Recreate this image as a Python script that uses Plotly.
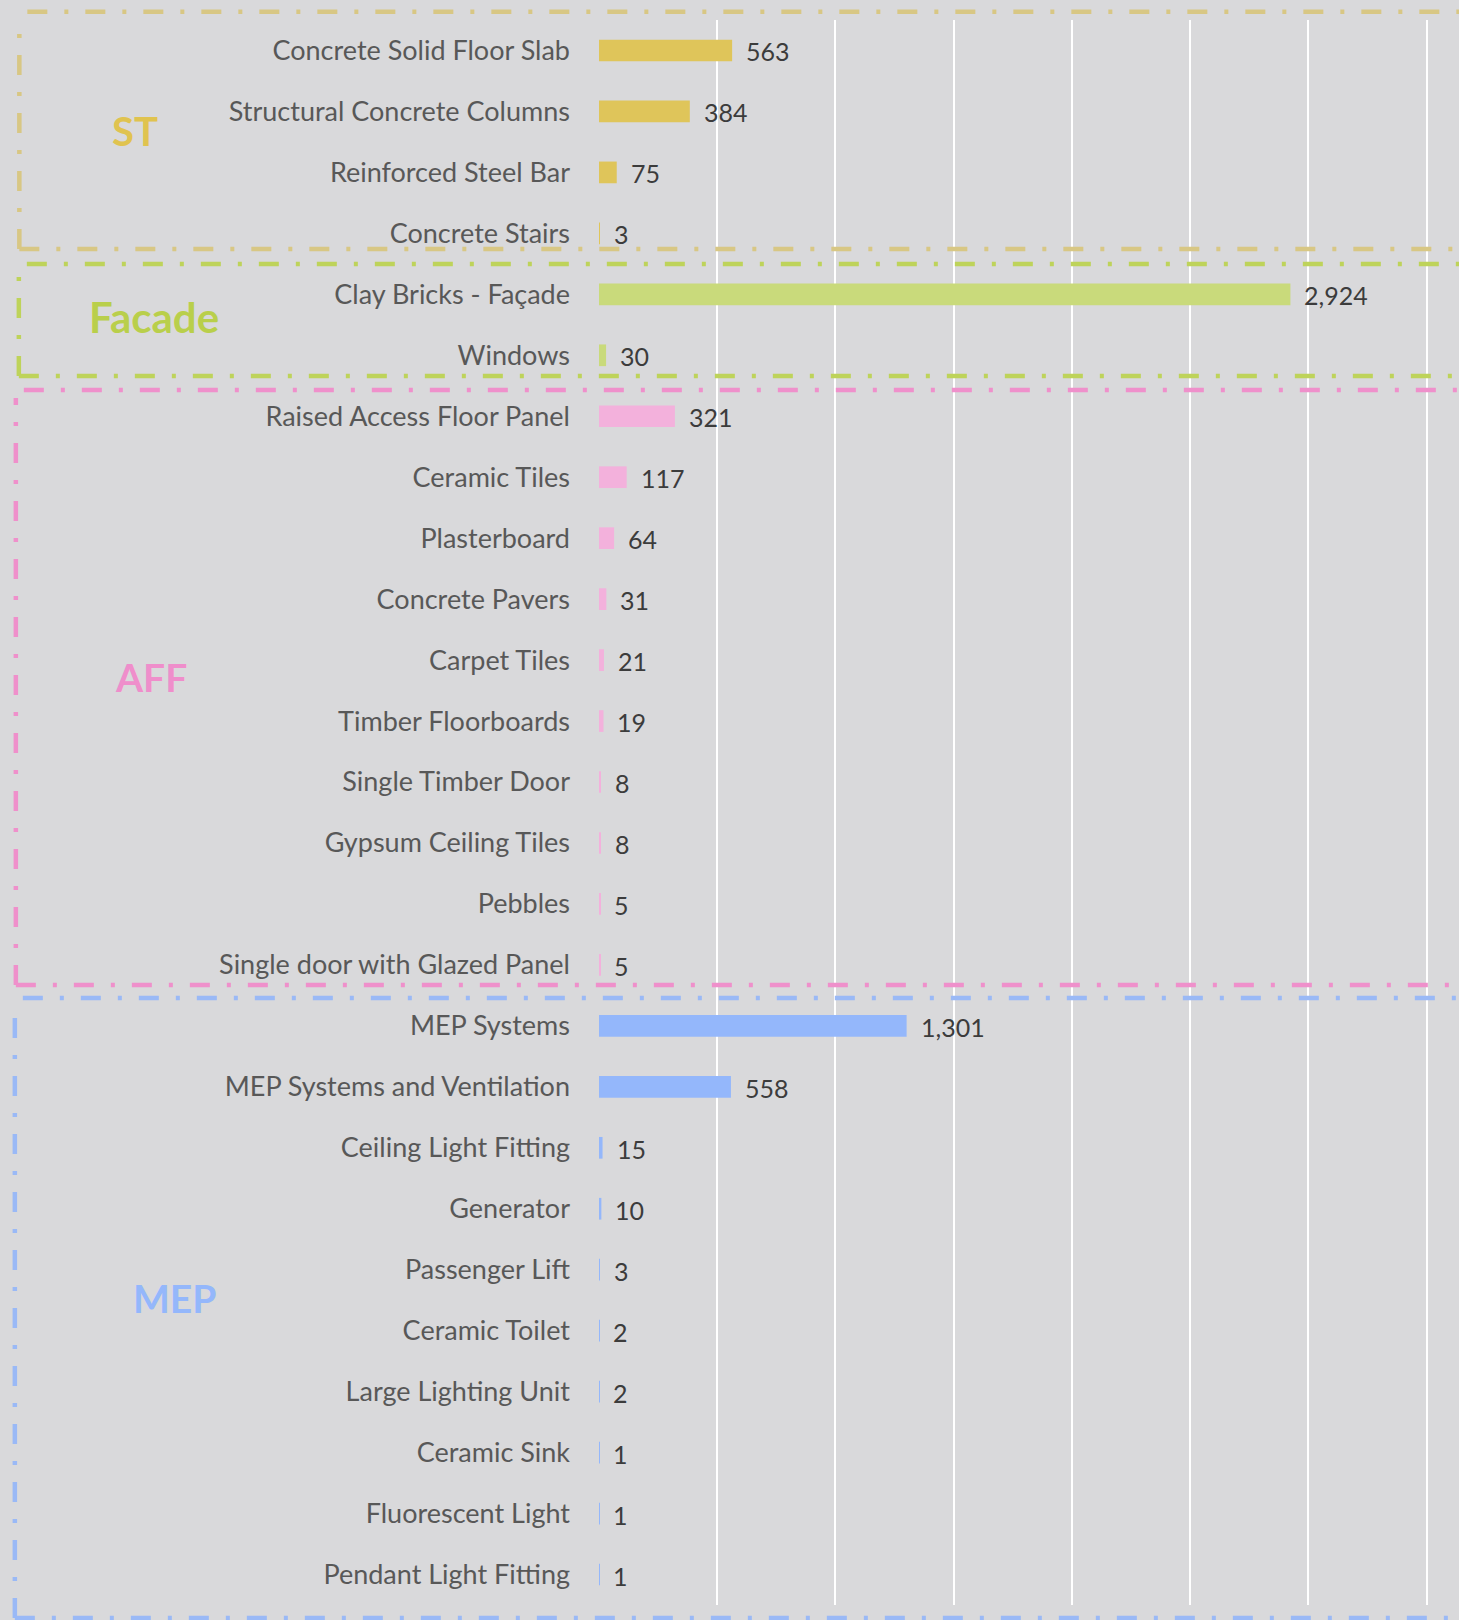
import plotly.graph_objects as go

# ---------------- data ----------------
groups = ["ST", "Facade", "AFF", "MEP"]

st_items = ["Concrete Solid Floor Slab", "Structural Concrete Columns", "Reinforced Steel Bar", "Concrete Stairs"]
st_values = [563, 384, 75, 3]

facade_items = ["Clay Bricks - Façade", "Windows"]
facade_values = [2924, 30]

aff_items = ["Raised Access Floor Panel", "Ceramic Tiles", "Plasterboard", "Concrete Pavers", "Carpet Tiles",
             "Timber Floorboards", "Single Timber Door", "Gypsum Ceiling Tiles", "Pebbles",
             "Single door with Glazed Panel"]
aff_values = [321, 117, 64, 31, 21, 19, 8, 8, 5, 5]

mep_items = ["MEP Systems", "MEP Systems and Ventilation", "Ceiling Light Fitting", "Generator", "Passenger Lift",
             "Ceramic Toilet", "Large Lighting Unit", "Ceramic Sink", "Fluorescent Light", "Pendant Light Fitting"]
mep_values = [1301, 558, 15, 10, 3, 2, 2, 1, 1, 1]

# ---------------- style ----------------
W, H = 1459, 1620
BG = "#d9d9db"
FONT = "Lato"
bar_colors = {"ST": "#dfc55a", "Facade": "#c9da7b", "AFF": "#f3b1dc", "MEP": "#94b7fb"}
label_colors = {"ST": "#e0c34f", "Facade": "#b9cf4b", "AFF": "#ef8ecb", "MEP": "#94b7fb"}
line_colors = {"ST": "#d8c784", "Facade": "#bed35a", "AFF": "#ef90cb", "MEP": "#9ab9f6"}

PLOT_L, PLOT_T, PLOT_B = 598.5, 20, 1605
X_MAX = 3637

group_items = {"ST": st_items, "Facade": facade_items, "AFF": aff_items, "MEP": mep_items}
group_values = {"ST": st_values, "Facade": facade_values, "AFF": aff_values, "MEP": mep_values}

all_items = st_items + facade_items + aff_items + mep_items

fig = go.Figure()
for g in groups:
    fig.add_trace(go.Bar(
        x=group_values[g], y=group_items[g], orientation="h",
        marker=dict(color=bar_colors[g], line=dict(width=0)),
        name=g, showlegend=False, hoverinfo="x+y",
    ))

annotations = []
for g in groups:
    for item, v in zip(group_items[g], group_values[g]):
        annotations.append(dict(
            x=v, y=item, xref="x", yref="y", text=f"{v:,}", showarrow=False,
            xanchor="left", yanchor="middle", xshift=12, yshift=-1,
            font=dict(family=FONT, size=25, color="#3c3c3c"),
        ))

# group titles (positions: fractional row index of the caption)
title_pos = {"ST": (134, 1.32), "Facade": (153, 4.37), "AFF": (150, 10.28), "MEP": (174, 20.46)}
title_size = {"ST": 40, "Facade": 42, "AFF": 39, "MEP": 39}
plot_w = W - PLOT_L
for g in groups:
    px, yi = title_pos[g]
    annotations.append(dict(
        x=(px - PLOT_L) / plot_w, y=yi, xref="paper", yref="y", text=f"<b>{g}</b>",
        showarrow=False, xanchor="center", yanchor="middle",
        font=dict(family=FONT, size=title_size[g], color=label_colors[g]),
    ))

# group boxes (pixel extents)
box_px = {"ST": (18.5, 11.7, 249), "Facade": (18, 264, 376), "AFF": (15, 390, 985), "MEP": (14, 998, 1618)}
plot_h = PLOT_B - PLOT_T
def px2x(p):
    return (p - PLOT_L) / plot_w
def py2y(p):
    return (PLOT_B - p) / plot_h

shapes = []
for g in groups:
    x0p, y0p, y1p = box_px[g]
    x0, x1 = px2x(x0p), 1.05
    ya, yb = py2y(y0p), py2y(y1p)
    ln = dict(color=line_colors[g], width=4.5, dash="20px,17px,4px,17px")
    shapes.append(dict(type="line", xref="paper", yref="paper", x0=x0 + 8 / plot_w, x1=x1, y0=ya, y1=ya, line=ln, layer="above"))
    shapes.append(dict(type="line", xref="paper", yref="paper", x0=x0, x1=x0, y0=yb, y1=ya - 8 / plot_h, line=ln, layer="above"))
    shapes.append(dict(type="line", xref="paper", yref="paper", x0=x0, x1=x1, y0=yb, y1=yb, line=ln, layer="above"))

fig.update_layout(
    width=W, height=H,
    paper_bgcolor=BG, plot_bgcolor=BG,
    margin=dict(l=PLOT_L, r=0, t=PLOT_T, b=H - PLOT_B, autoexpand=False),
    barmode="relative", bargap=0.644,
    font=dict(family=FONT, size=27, color="#585858"),
    xaxis=dict(range=[0, X_MAX], dtick=500, tick0=0, showgrid=True, gridcolor="#ffffff", gridwidth=1.6,
               showticklabels=False, zeroline=False, showline=False, fixedrange=True),
    yaxis=dict(categoryorder="array", categoryarray=all_items, autorange="reversed",
               showgrid=False, zeroline=False, showline=False, ticks="",
               ticklabelstandoff=28, tickfont=dict(family=FONT, size=27, color="#585858")),
    annotations=annotations,
    shapes=shapes,
)

fig.write_html("out.html")
